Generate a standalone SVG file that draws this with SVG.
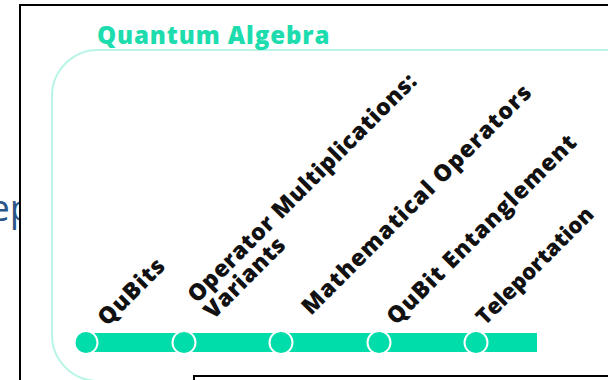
<svg xmlns="http://www.w3.org/2000/svg" width="608" height="380" viewBox="0 0 608 380">
<style>
.lbl{font-family:"Open Sans","Liberation Sans",sans-serif;font-weight:800;font-size:23px;letter-spacing:1px;fill:#111}
.dot{fill:#00dcaa;stroke:#fff;stroke-width:2}
.bar{stroke:#00dcaa;stroke-width:19;fill:none}
</style>
<rect x="0" y="0" width="608" height="380" fill="#fff"/>
<text x="-11" y="221" font-family="Open Sans, Liberation Sans, sans-serif" font-size="37" fill="#2a5687">ep</text>
<rect x="20" y="5" width="600" height="390" fill="#fff" stroke="#000" stroke-width="2"/>
<rect x="52" y="50" width="600" height="331" rx="46" ry="46" fill="none" stroke="#b8f5e6" stroke-width="2"/>
<text x="97" y="44" font-family="Open Sans, Liberation Sans, sans-serif" font-weight="800" font-size="24" letter-spacing="0.9" fill="#1ddcae">Quantum Algebra</text>
<rect x="194" y="376" width="430" height="20" fill="#fff" stroke="#000" stroke-width="2"/>
<g id="connectors">
<line class="bar" x1="86" y1="342.5" x2="537" y2="342.5"/>
</g>
<g id="qubits">
<circle class="dot" cx="86" cy="342.5" r="11.5"/>
<text class="lbl" transform="translate(107,327) rotate(-45)">QuBits</text>
</g>
<g id="operator-multiplications">
<circle class="dot" cx="184" cy="342.5" r="11.5"/>
<text class="lbl" transform="translate(197,304) rotate(-45)" style="letter-spacing:0.5px">Operator Multiplications:<tspan x="0" dy="23">Variants</tspan></text>
</g>
<g id="mathematical-operators">
<circle class="dot" cx="281" cy="342.5" r="11.5"/>
<text class="lbl" transform="translate(311,316) rotate(-45)">Mathematical Operators</text>
</g>
<g id="qubit-entanglement">
<circle class="dot" cx="379" cy="342.5" r="11.5"/>
<text class="lbl" transform="translate(396,326) rotate(-45)">QuBit Entanglement</text>
</g>
<g id="teleportation">
<circle class="dot" cx="476" cy="342.5" r="11.5"/>
<text class="lbl" transform="translate(485,326) rotate(-45)" style="letter-spacing:0px;font-size:22px">Teleportation</text>
</g>
</svg>
